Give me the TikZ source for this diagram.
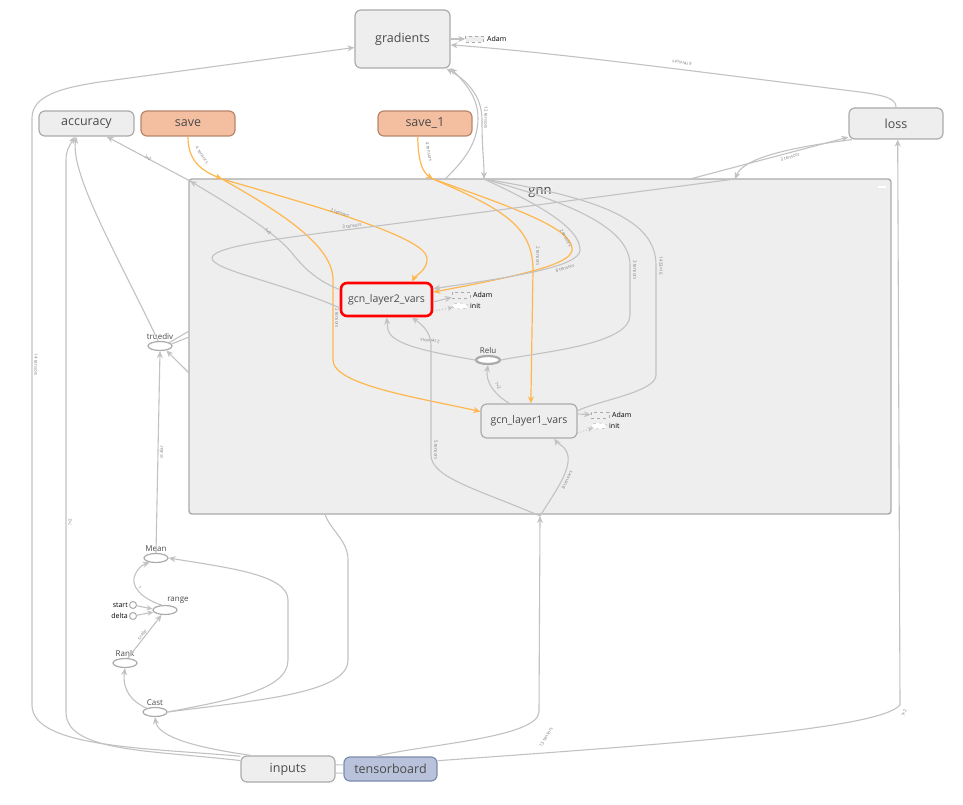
\documentclass[tikz,border=0pt]{standalone}
\usepackage{fontspec}
\setmainfont{Open Sans}
\usetikzlibrary{arrows.meta,shapes.geometric}
\definecolor{boxfill}{HTML}{EEEEEE}
\definecolor{boxdraw}{HTML}{ABABAB}
\definecolor{edgec}{HTML}{C2C2C2}
\definecolor{orangec}{HTML}{FFB74D}
\definecolor{savefill}{HTML}{F4BFA1}
\definecolor{savedraw}{HTML}{B8866B}
\definecolor{tbfill}{HTML}{B8C2DB}
\definecolor{tbdraw}{HTML}{7C8BAE}
\definecolor{txt}{HTML}{4A4A4A}
\definecolor{labc}{HTML}{808080}
\begin{document}
\begin{tikzpicture}[x=1pt,y=-1pt,
  opbox/.style={draw=boxdraw,fill=boxfill,rounded corners=6pt,line width=1.2pt,inner sep=0pt,text=txt,font=\fontsize{12.5}{14}\selectfont},
  savebox/.style={opbox,draw=savedraw,fill=savefill},
  tbbox/.style={opbox,draw=tbdraw,fill=tbfill},
  opell/.style={ellipse,draw=boxdraw,fill=white,line width=1.2pt,minimum width=24pt,minimum height=9pt,inner sep=0pt},
  lbl/.style={text=txt,font=\fontsize{8}{9}\selectfont,inner sep=1pt},
  tiny/.style={font=\fontsize{7}{8}\selectfont,text=black,inner sep=0pt,anchor=west},
  dbox/.style={draw=boxdraw,dashed,fill=boxfill,minimum width=18pt,minimum height=6pt,inner sep=0pt},
  dell/.style={ellipse,draw=boxdraw,dashed,fill=white,minimum width=16pt,minimum height=6pt,inner sep=0pt},
  edge/.style={draw=edgec,line width=1.1pt},
  oedge/.style={draw=orangec,line width=1.2pt},
  arr/.style={-{Stealth[length=7pt,width=6pt]}},
  elab/.style={text=labc,font=\fontsize{4.5}{5}\selectfont,inner sep=0pt},
  dotarr/.style={draw=edgec,line width=1pt,dotted,-{Stealth[length=5pt,width=5pt]}}
]
\useasboundingbox[fill=white] (0,0) rectangle (963,805);

% group box
\node[draw=boxdraw,fill=boxfill,rounded corners=3pt,line width=1.4pt,minimum width=702pt,minimum height=335pt,inner sep=0pt] (gnn) at (540,346.5) {};
\node[text=txt,font=\fontsize{13}{15}\selectfont] (gnnlbl) at (540,193) {gnn};
\node[fill=white,minimum width=8pt,minimum height=2pt,inner sep=0pt] (gnnbtn) at (882,187) {};

% boxes
\node[opbox,minimum width=95pt,minimum height=58pt] (grad) at (402.5,39) {gradients};
\node[dbox] (gadam) at (474.5,39) {};
\node[tiny] (gadamt) at (487,39) {Adam};
\node[opbox,minimum width=95pt,minimum height=25pt] (acc) at (86.5,123.5) {accuracy};
\node[savebox,minimum width=94pt,minimum height=25pt] (save) at (188,123.5) {save};
\node[savebox,minimum width=94pt,minimum height=25pt] (save1) at (425,123.5) {save\_1};
\node[opbox,minimum width=94pt,minimum height=31pt] (loss) at (896,123.5) {loss};
\node[opbox,minimum width=94pt,minimum height=26pt] (inputs) at (288,769) {inputs};
\node[tbbox,minimum width=93pt,minimum height=24pt] (tb) at (390.5,769) {tensorboard};

% inside gnn
\node[opbox,draw=red,line width=2.6pt,fill=boxfill,minimum width=91pt,minimum height=33pt,font=\fontsize{10.5}{12}\selectfont] (gcn2) at (386.5,299.5) {gcn\_layer2\_vars};
\node[dbox] (a2) at (461,295) {};
\node[tiny] (a2t) at (473,295) {Adam};
\node[dell] (i2) at (460,306) {};
\node[tiny] (i2t) at (470,306) {init};
\node[opbox,minimum width=96pt,minimum height=34pt,font=\fontsize{10.5}{12}\selectfont] (gcn1) at (529,421) {gcn\_layer1\_vars};
\node[dbox] (a1) at (600,415) {};
\node[tiny] (a1t) at (612,415) {Adam};
\node[dell] (i1) at (599,426) {};
\node[tiny] (i1t) at (609,426) {init};
\node[opell,line width=2.2pt,minimum width=24pt,minimum height=8pt,label={[lbl]above:Relu}] (relu) at (488,360) {};

% left ops
\node[opell,label={[lbl]above:truediv}] (truediv) at (160,346) {};
\node[opell,label={[lbl]above:Mean}] (mean) at (156,558) {};
\node[opell,label={[lbl,xshift=13pt]above:range}] (range) at (165,610) {};
\node[circle,draw=boxdraw,fill=white,line width=1pt,minimum size=7pt,inner sep=0pt] (start) at (133,605) {};
\node[tiny,anchor=east] (startt) at (128,605) {start};
\node[circle,draw=boxdraw,fill=white,line width=1pt,minimum size=7pt,inner sep=0pt] (delta) at (133,616) {};
\node[tiny,anchor=east] (deltat) at (128,616) {delta};
\node[opell,label={[lbl]above:Rank}] (rank) at (125,663) {};
\node[opell,label={[lbl]above:Cast}] (cast) at (155,712) {};

% coordinates on group border
\coordinate (gcorner) at (190,181);
\coordinate (gs1) at (222,179);
\coordinate (gs2) at (433,179);
\coordinate (gx1) at (445,179);
\coordinate (gx2) at (484,179);
\coordinate (gt3) at (690,179);
\coordinate (gt2) at (735,179);
\coordinate (gb1) at (325,514);
\coordinate (gb2) at (540,516);
\coordinate (gl1) at (189,331);
\coordinate (gl2) at (189,337);
\coordinate (gl3) at (189,373);

% ---- edges outside
\draw[edge,arr] (inputs.165) .. controls (150,748) and (32,748) .. (32,705) -- (32,118) .. controls (32,96) and (60,88) .. (100,82) -- (grad.190);
\node[elab,rotate=-90] (l14) at (36,365) {14 tensors};
\draw[edge,arr] (inputs.170) .. controls (150,750) and (66,752) .. (66,712) -- (66,160) .. controls (66,150) and (70,145) .. (acc.228);
\node[elab,rotate=90] (lq1) at (70,522) {?×2};
\draw[edge,arr] (inputs.160) .. controls (200,748) and (158,738) .. (cast.south);
\draw[edge,arr] (cast.155) .. controls (132,702) and (122,690) .. (rank.south);
\draw[edge,arr] (rank.60) -- (range.235) node[elab,midway,sloped,above=1pt] {scalar};
\draw[edge,-{Stealth[length=6pt,width=5pt]}] (start) -- (range.175);
\draw[edge,-{Stealth[length=6pt,width=5pt]}] (delta) -- (range.190);
\draw[edge,arr] (range.125) .. controls (140,598) and (130,585) .. (135,575) .. controls (138,568) and (142,565) .. (mean.215);
\node[elab,rotate=-60] (l1) at (140,588) {1};
\draw[edge,arr] (cast.east) .. controls (230,700) and (288,690) .. (288,660) -- (288,600) .. controls (288,575) and (230,568) .. (mean.east);
\draw[edge] (cast.east) .. controls (260,700) and (348,693) .. (348,660) -- (348,560) .. controls (348,540) and (330,530) .. (gb1);
\draw[edge,arr] (mean.north) -- (truediv.south) node[elab,midway,sloped,below=1pt] {scalar};
\draw[edge] (gl1) -- (truediv.20);
\draw[edge] (gl2) -- (truediv.10);
\draw[edge,arr] (gl3) -- (truediv.-35);
\draw[edge,arr] (truediv.110) .. controls (120,260) and (70,175) .. (acc.232);
\draw[edge,arr] (gcorner) -- (acc.-33);
\node[elab,rotate=-35] (lq2) at (148,158) {?×2};

\draw[oedge,arr,draw=orangec] (save.south) .. controls (188,160) and (200,170) .. (gs1);
\node[elab,rotate=-55] (l4a) at (202,155) {4 tensors};
\draw[oedge,arr] (save1.241) .. controls (418,160) and (422,172) .. (gs2);
\node[elab,rotate=-80] (l4b) at (429,152) {4 tensors};

\draw[edge,arr] (gx1) .. controls (465,160) and (478,142) .. (478,118) .. controls (478,95) and (462,80) .. (grad.-31);
\draw[edge,{Stealth[length=7pt,width=6pt]}-{Stealth[length=7pt,width=6pt]}] (gx2) .. controls (484,160) and (482,150) .. (482,120) .. controls (482,95) and (466,80) .. (grad.-34);
\node[elab,rotate=-90] (l12) at (486,118) {12 tensors};
\draw[edge,arr] (grad.east) -- (gadam);
\draw[edge,arr] (loss.north) .. controls (896,100) and (890,96) .. (860,92) .. controls (700,72) and (550,52) .. (grad.-7);
\node[elab,rotate=172] (l6) at (682,63) {6 tensors};
\draw[edge,arr] (gt3) -- (loss.196);
\draw[edge,arr] (loss.200) .. controls (770,150) and (742,162) .. (gt2);
\node[elab,rotate=16] (l3c) at (790,157) {3 tensors};
\draw[edge,arr] (tb.10) .. controls (700,742) and (880,728) .. (900,705) -- (loss.-84);
\node[elab,rotate=70] (lq3) at (904,713) {?×2};
\draw[edge,arr] (tb.140) .. controls (420,745) and (538,738) .. (539,712) -- (gb2);
\node[elab,rotate=60] (l13) at (546,737) {13 tensors};
\draw[edge] (inputs.5) -- (tb.175);
\draw[edge] (inputs.-5) -- (tb.185);

% ---- edges inside gnn
\draw[oedge,arr] (gs1) .. controls (330,210) and (425,238) .. (427,258) .. controls (428,270) and (415,276) .. (gcn2.35);
\node[elab,rotate=-18] (l2a) at (340,213) {2 tensors};
\draw[oedge,arr] (gs1) .. controls (280,212) and (333,245) .. (333,280) -- (333,360) .. controls (333,385) and (420,398) .. (gcn1.169);
\node[elab,rotate=-90] (l2b) at (337,318) {2 tensors};
\draw[oedge,arr] (gs2) .. controls (500,208) and (533,225) .. (533,270) -- (gcn1.84);
\node[elab,rotate=-90] (l2c) at (538,256) {2 tensors};
\draw[oedge,arr] (gs2) .. controls (520,210) and (570,228) .. (572,248) .. controls (574,262) and (540,272) .. (gcn2.9);
\node[elab,rotate=-60] (l2d) at (566,238) {2 tensors};

\draw[edge,arr] (gx2) .. controls (540,205) and (580,228) .. (580,250) .. controls (580,266) and (520,276) .. (gcn2.13);
\node[elab,rotate=15] (l8a) at (565,268) {8 tensors};
\draw[edge] (gx2) .. controls (560,200) and (630,225) .. (630,265) -- (630,315) .. controls (630,345) and (540,352) .. (relu.east);
\node[elab,rotate=-90] (l3a) at (635,270) {3 tensors};
\draw[edge] (gx2) .. controls (600,198) and (656,220) .. (656,265) -- (656,375) .. controls (656,392) and (600,400) .. (gcn1.12);
\node[elab,rotate=-90] (l1433) at (661,266) {1433×16};

\draw[edge,arr] (gcn2.168) .. controls (320,282) and (305,270) .. (292,253) .. controls (275,232) and (230,205) .. (gcorner);
\node[elab,rotate=-40] (lq4) at (268,232) {?×2};
\draw[edge] (gcn2.190) .. controls (280,282) and (212,270) .. (212,258) .. controls (212,245) and (300,236) .. (400,223) -- (gt2);
\node[elab,rotate=7] (l3b) at (352,226) {3 tensors};

\draw[edge,arr] (relu.west) .. controls (430,352) and (392,345) .. (388,330) -- (gcn2.south);
\node[elab,rotate=175] (l2e) at (430,341) {2 tensors};
\draw[edge,arr] (gcn1.138) .. controls (495,395) and (485,382) .. (relu.south);
\node[elab,rotate=-60] (lq5) at (498,386) {?×2};
\draw[edge,arr] (gb2) .. controls (480,490) and (431,478) .. (431,455) -- (431,345) .. controls (431,330) and (418,322) .. (gcn2.-35);
\node[elab,rotate=-90] (l5) at (436,450) {5 tensors};
\draw[edge,arr] (gb2) .. controls (555,492) and (570,472) .. (568,456) .. controls (566,446) and (558,444) .. (gcn1.-35);
\node[elab,rotate=65] (l8b) at (567,480) {8 tensors};

\draw[edge,arr] (gcn2.-3) -- (a2);
\draw[dotarr] (gcn2.-14) -- (i2);
\draw[edge,arr] (gcn1.east) ++(0,-7) -- (a1);
\draw[dotarr] (gcn1.-14) -- (i1);
\end{tikzpicture}
\end{document}
